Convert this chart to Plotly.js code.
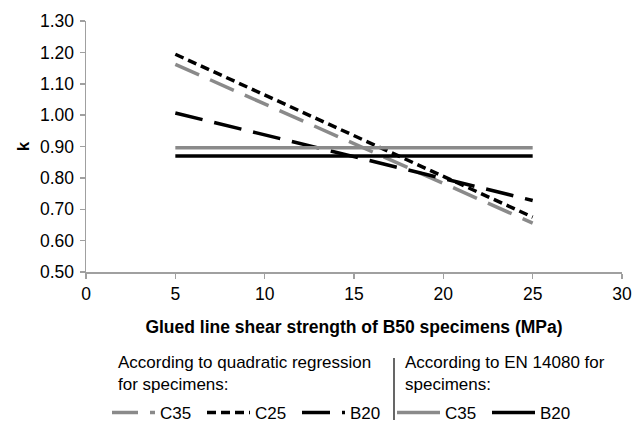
<!DOCTYPE html>
<html>
<head>
<meta charset="utf-8">
<script src="https://cdn.plot.ly/plotly-3.0.1.min.js"></script>
<style>html,body{margin:0;padding:0;background:#fff;}#chart{width:644px;height:427px;}</style>
</head>
<body>
<div id="chart"></div>
<script>
// Data
const strength = [5, 25];
const quadC35 = [1.162, 0.656];
const quadC25 = [1.194, 0.675];
const quadB20 = [1.007, 0.728];
const enC35 = [0.896, 0.896];
const enB20 = [0.870, 0.870];
const seriesNames = ['C35', 'C25', 'B20', 'C35', 'B20'];
const xTicks = [0, 5, 10, 15, 20, 25, 30];
const yTicks = [0.5, 0.6, 0.7, 0.8, 0.9, 1.0, 1.1, 1.2, 1.3];

const GRAY = '#8a8a8a';
const FONT = 'Liberation Sans, Arial, sans-serif';

const traces = [
  {x: strength, y: quadC35, name: seriesNames[0], line: {color: GRAY, width: 3.5, dash: '26px,12px'}},
  {x: strength, y: quadC25, name: seriesNames[1], line: {color: '#000', width: 3.5, dash: '9px,5px'}},
  {x: strength, y: quadB20, name: seriesNames[2], line: {color: '#000', width: 3.5, dash: '28px,12px'}},
  {x: strength, y: enC35, name: seriesNames[3], line: {color: GRAY, width: 3.5}},
  {x: strength, y: enB20, name: seriesNames[4], line: {color: '#000', width: 3.5}}
].map(t => Object.assign({type: 'scatter', mode: 'lines', hoverinfo: 'skip'}, t));

const PLOT_L = 86, PLOT_W = 536, PLOT_B = 272, PLOT_H = 251;
const px = v => (v - PLOT_L) / PLOT_W;
const py = v => (PLOT_B - v) / PLOT_H;

const layout = {
  width: 644, height: 427,
  margin: {l: 86, r: 22, t: 21, b: 155},
  paper_bgcolor: '#fff', plot_bgcolor: '#fff',
  font: {family: FONT, size: 17, color: '#000'},
  showlegend: true,
  xaxis: {
    range: [0, 30], tickvals: xTicks, ticktext: xTicks.map(String),
    showgrid: false, zeroline: false, showline: true, linecolor: '#a0a0a0', linewidth: 1.5,
    ticks: 'outside', ticklen: 5, tickcolor: '#a0a0a0', tickwidth: 1.5,
    tickfont: {family: FONT, size: 17.5, color: '#000'},
    title: {text: 'Glued line shear strength of B50 specimens (MPa)', font: {family: FONT, size: 17.5, color: '#000', weight: 'bold'}, standoff: 18},
    automargin: false, fixedrange: true
  },
  yaxis: {
    range: [0.5, 1.3], tickvals: yTicks, ticktext: yTicks.map(v => v.toFixed(2)),
    showgrid: false, zeroline: false, showline: true, linecolor: '#a0a0a0', linewidth: 1.5,
    ticks: 'outside', ticklen: 5, tickcolor: '#a0a0a0', tickwidth: 1.5,
    tickfont: {family: FONT, size: 17.5, color: '#000'},
    ticklabelstandoff: 2,
    title: {text: 'k', font: {family: FONT, size: 17, color: '#000', weight: 'bold'}, standoff: 6},
    automargin: false, fixedrange: true
  },
  legend: {
    orientation: 'h', xref: 'container', yref: 'container',
    x: 107 / 644, xanchor: 'left', y: 1 - 413 / 427, yanchor: 'middle',
    font: {family: FONT, size: 17, color: '#000'},
    itemwidth: 43, entrywidth: 37, entrywidthmode: 'pixels',
    bgcolor: 'rgba(0,0,0,0)', borderwidth: 0, traceorder: 'normal'
  },
  annotations: [
    {xref: 'paper', yref: 'paper', x: px(116), y: py(351), xanchor: 'left', yanchor: 'top', align: 'left',
     showarrow: false, text: 'According to quadratic regression<br>for specimens:', font: {family: FONT, size: 17, color: '#000'}},
    {xref: 'paper', yref: 'paper', x: px(403), y: py(351), xanchor: 'left', yanchor: 'top', align: 'left',
     showarrow: false, text: 'According to EN 14080 for<br>specimens:', font: {family: FONT, size: 17, color: '#000'}}
  ],
  shapes: [
    {type: 'line', xref: 'paper', yref: 'paper', x0: px(394), x1: px(394),
     y0: py(358), y1: py(420), line: {color: '#000', width: 1.2}}
  ]
};

Plotly.newPlot('chart', traces, layout, {staticPlot: true, displayModeBar: false});
</script>
</body>
</html>
